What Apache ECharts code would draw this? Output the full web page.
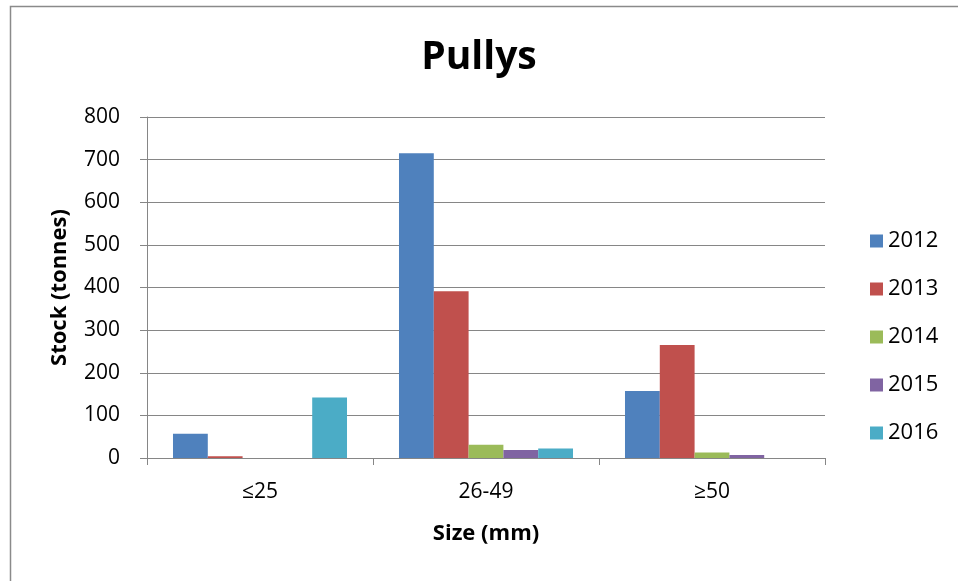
<!DOCTYPE html>
<html>
<head>
<meta charset="utf-8">
<title>Pullys</title>
<script src="https://cdn.jsdelivr.net/npm/echarts@6/dist/echarts.min.js"></script>
<style>
  html, body { margin: 0; padding: 0; background: #fff; }
  #chart { width: 958px; height: 581px; }
</style>
</head>
<body>
<div id="chart"></div>
<script>
// Size classes and stock per survey year (tonnes)
const sizeClasses = ['≤25', '26-49', '≥50'];
const years = ['2012', '2013', '2014', '2015', '2016'];
const stock2012 = [57, 715, 157];
const stock2013 = [4, 391, 265];
const stock2014 = [0, 31, 13];
const stock2015 = [0, 19, 7];
const stock2016 = [142, 22, 0];
const yTicks = { min: 0, max: 800, interval: 100 };

const yearValues = [stock2012, stock2013, stock2014, stock2015, stock2016];
const palette = ['#4F81BD', '#C0504D', '#9BBB59', '#8064A2', '#4BACC6'];
const font = '"Open Sans", "Noto Sans", sans-serif';
const axisGrey = '#868686';

const chart = echarts.init(document.getElementById('chart'));

chart.setOption({
  animation: false,
  backgroundColor: '#fff',
  color: palette,
  textStyle: { fontFamily: font },
  title: {
    text: 'Pullys',
    left: 'center',
    top: 33,
    textStyle: { fontFamily: font, fontSize: 39, fontWeight: 'bold', color: '#000' }
  },
  graphic: [{
    type: 'rect',
    left: 8,
    top: 4,
    shape: { width: 980, height: 576 },
    style: { fill: 'none', stroke: '#8a8a8a', lineWidth: 1.5 },
    silent: true
  }],
  legend: {
    orient: 'vertical',
    left: 865,
    top: 225,
    itemWidth: 13,
    itemHeight: 13,
    itemGap: 26,
    icon: 'rect',
    textStyle: { fontFamily: font, fontSize: 22, color: '#000', padding: [0, 0, 0, 0] },
    data: years
  },
  grid: { left: 147, right: 133, top: 117, bottom: 123 },
  xAxis: {
    type: 'category',
    data: sizeClasses,
    name: 'Size (mm)',
    nameLocation: 'middle',
    nameGap: 65,
    nameTextStyle: { fontFamily: font, fontSize: 22, fontWeight: 'bold', color: '#000' },
    axisLine: { lineStyle: { color: axisGrey, width: 1 } },
    axisTick: { show: true, interval: 0, length: 7, lineStyle: { color: axisGrey } },
    axisLabel: { margin: 24, fontFamily: font, fontSize: 21, color: '#000' }
  },
  yAxis: {
    type: 'value',
    min: yTicks.min,
    max: yTicks.max,
    interval: yTicks.interval,
    name: 'Stock (tonnes)',
    nameLocation: 'middle',
    nameGap: 76,
    nameTextStyle: { fontFamily: font, fontSize: 22, fontWeight: 'bold', color: '#000' },
    axisLine: { show: true, lineStyle: { color: axisGrey, width: 1 } },
    axisTick: { show: true, length: 7, lineStyle: { color: axisGrey } },
    axisLabel: { margin: 27, fontFamily: font, fontSize: 21, color: '#000' },
    splitLine: { lineStyle: { color: axisGrey, width: 1 } }
  },
  series: years.map((y, i) => ({
    name: y,
    type: 'bar',
    data: yearValues[i],
    barGap: '0%',
    barCategoryGap: '23%',
    itemStyle: { color: palette[i] }
  }))
});
</script>
</body>
</html>
